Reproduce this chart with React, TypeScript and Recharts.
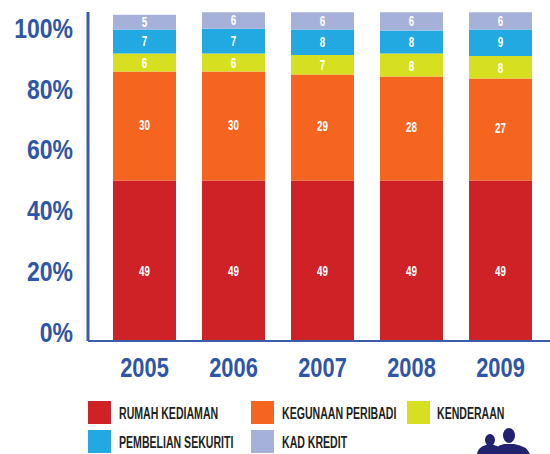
import React from 'react';
import { BarChart, Bar, XAxis, YAxis, LabelList } from 'recharts';

const years = ['2005', '2006', '2007', '2008', '2009'];
const percentTicks = [0, 20, 40, 60, 80, 100];

// segment sizes as drawn (the printed figures and the bar heights differ a bit in the source)
const rumah = [48.8, 48.8, 48.8, 48.8, 48.8];
const kegunaan = [33.1, 33.1, 32.2, 31.6, 31.0];
const kenderaan = [5.5, 5.5, 5.9, 7.0, 6.8];
const sekuriti = [7.3, 7.5, 7.8, 7.0, 8.1];
const kad = [4.5, 5.0, 5.2, 5.5, 5.2];

// figures printed on the bars
const rumahLabels = [49, 49, 49, 49, 49];
const kegunaanLabels = [30, 30, 29, 28, 27];
const kenderaanLabels = [6, 6, 7, 8, 8];
const sekuritiLabels = [7, 7, 8, 8, 9];
const kadLabels = [5, 6, 6, 6, 6];

const BLUE = '#2f55a6';
const FONT = '"Liberation Sans", sans-serif';

const series = [
  { key: 'rumah', name: 'RUMAH KEDIAMAN', color: '#cf2227', labelKey: 'rumahLabel', dy: 11 },
  { key: 'kegunaan', name: 'KEGUNAAN PERIBADI', color: '#f56520', labelKey: 'kegunaanLabel', dy: -1 },
  { key: 'kenderaan', name: 'KENDERAAN', color: '#d7df21', labelKey: 'kenderaanLabel', dy: 1 },
  { key: 'sekuriti', name: 'PEMBELIAN SEKURITI', color: '#23a9e1', labelKey: 'sekuritiLabel', dy: 0 },
  { key: 'kad', name: 'KAD KREDIT', color: '#a6b1da', labelKey: 'kadLabel', dy: 0 },
];

const data = years.map((year, i) => ({
  year,
  rumah: rumah[i],
  kegunaan: kegunaan[i],
  kenderaan: kenderaan[i],
  sekuriti: sekuriti[i],
  kad: kad[i],
  rumahLabel: rumahLabels[i],
  kegunaanLabel: kegunaanLabels[i],
  kenderaanLabel: kenderaanLabels[i],
  sekuritiLabel: sekuritiLabels[i],
  kadLabel: kadLabels[i],
}));

const legendSpots = [
  { left: 88, top: 401, textLeft: 119 },
  { left: 251, top: 401, textLeft: 282 },
  { left: 407, top: 401, textLeft: 437 },
  { left: 88, top: 430, textLeft: 119 },
  { left: 251, top: 430, textLeft: 282 },
];

// no condensed font is installed, so squeeze the bold one horizontally
const NarrowText = ({ x, y, sx, size, fill, anchor, children }: any) => (
  <text
    transform={`translate(${x},${y}) scale(${sx},1)`}
    fill={fill}
    fontFamily={FONT}
    fontWeight={700}
    fontSize={size}
    textAnchor={anchor}
    dominantBaseline="central"
  >
    {children}
  </text>
);

const YearTick = ({ x, y, payload }: any) => (
  <NarrowText x={x} y={y + 18} sx={0.78} size={28} fill={BLUE} anchor="middle">
    {payload.value}
  </NarrowText>
);

const PercentTick = ({ x, y, payload }: any) => (
  <NarrowText x={x + 6} y={y} sx={0.82} size={28} fill={BLUE} anchor="end">
    {`${payload.value}%`}
  </NarrowText>
);

// lets each series nudge its printed figure
const barLabel = (dy: number) => (props: any) => {
  const { x, y, width, height, value } = props;
  return (
    <NarrowText x={x + width / 2} y={y + height / 2 + dy} sx={0.7} size={14} fill="#ffffff" anchor="middle">
      {value}
    </NarrowText>
  );
};

const App: React.FC = () => {
  return (
    <div style={{ position: 'absolute', left: 0, top: 0, width: 550, height: 454, overflow: 'hidden', background: '#fff' }}>
      <BarChart
        width={550}
        height={454}
        data={data}
        margin={{ top: 12, right: 0, bottom: 73, left: 0 }}
        barSize={63}
      >
        <XAxis
          dataKey="year"
          height={40}
          padding={{ left: 12, right: 5 }}
          axisLine={{ stroke: '#3a5cab', strokeWidth: 2 }}
          tickLine={false}
          tick={<YearTick />}
          interval={0}
        />
        {/* printed scale sits a little above the bar baseline in the source */}
        <YAxis
          yAxisId="scale"
          width={88}
          domain={[-3, 105.3]}
          ticks={percentTicks}
          allowDataOverflow
          axisLine={{ stroke: '#3a5cab', strokeWidth: 3 }}
          tickLine={false}
          tickMargin={15}
          tick={<PercentTick />}
        />
        <YAxis yAxisId="bars" hide width={0} domain={[0, 100]} />
        {series.map((s) => (
          <Bar key={s.key} yAxisId="bars" dataKey={s.key} stackId="a" fill={s.color} isAnimationActive={false}>
            <LabelList dataKey={s.labelKey} content={barLabel(s.dy)} />
          </Bar>
        ))}
      </BarChart>

      {series.map((s, i) => (
        <React.Fragment key={s.key}>
          <div
            style={{
              position: 'absolute',
              left: legendSpots[i].left,
              top: legendSpots[i].top,
              width: 23,
              height: 23,
              background: s.color,
            }}
          />
          <div
            style={{
              position: 'absolute',
              left: legendSpots[i].textLeft,
              top: legendSpots[i].top + 4,
              lineHeight: '17px',
              fontFamily: FONT,
              fontWeight: 700,
              fontSize: 16,
              color: '#231f20',
              whiteSpace: 'nowrap',
              transform: 'scaleX(0.66)',
              transformOrigin: 'left center',
            }}
          >
            {s.name}
          </div>
        </React.Fragment>
      ))}

      <svg style={{ position: 'absolute', left: 470, top: 420 }} width={70} height={34}>
        <ellipse cx={20} cy={20} rx={5} ry={6} fill="#23226f" />
        <path d="M7 34 Q8 27 16 25 L24 25 Q30 26 33 34 Z" fill="#23226f" />
        <ellipse cx={39} cy={15.5} rx={6} ry={7.5} fill="#23226f" />
        <path d="M22 34 Q24 26 34 24 L44 24 Q57 26 60 34 Z" fill="#23226f" />
      </svg>
    </div>
  );
};

export default App;
